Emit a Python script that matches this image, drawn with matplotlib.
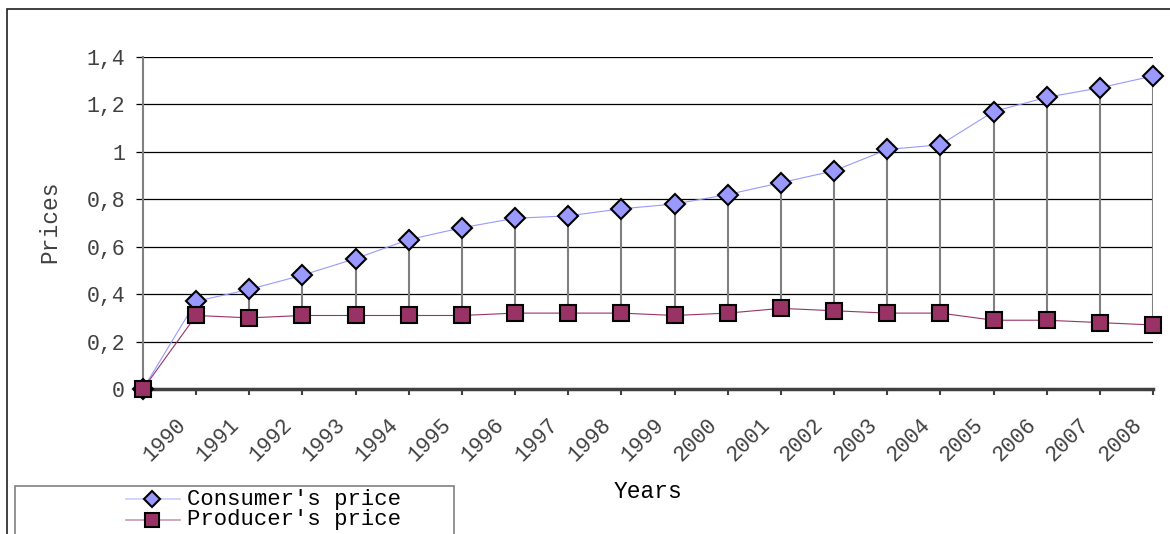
import matplotlib
matplotlib.use("Agg")
import matplotlib.pyplot as plt
from matplotlib.patches import Rectangle
from matplotlib.lines import Line2D

# Price series, first slot is the empty start category
years = ["", "1990", "1991", "1992", "1993", "1994", "1995", "1996", "1997", "1998",
         "1999", "2000", "2001", "2002", "2003", "2004", "2005", "2006", "2007", "2008"]
consumer = [0, 0.37, 0.42, 0.48, 0.55, 0.63, 0.68, 0.72, 0.73, 0.76,
            0.78, 0.82, 0.87, 0.92, 1.01, 1.03, 1.17, 1.23, 1.27, 1.32]
producer = [0, 0.31, 0.30, 0.31, 0.31, 0.31, 0.31, 0.32, 0.32, 0.32,
            0.31, 0.32, 0.34, 0.33, 0.32, 0.32, 0.29, 0.29, 0.28, 0.27]
yticks = [0, 0.2, 0.4, 0.6, 0.8, 1.0, 1.2, 1.4]

W, H = 1170, 534
FONT = "Liberation Mono"
BLUE = "#9999ff"
PLUM = "#993366"
TXT = "#404040"

fig = plt.figure(figsize=(W / 100, H / 100), dpi=100)
ax = fig.add_axes([143 / W, 145 / H, (1153 - 143) / W, (389 - 57) / H])

x = list(range(len(years)))

# horizontal grid, stopping at the last category
ax.hlines(yticks[1:], 0, x[-1], color="black", lw=0.9, zorder=1)

# high-low lines between the two series
ax.vlines(x[1:], producer[1:], consumer[1:], color="#808080", lw=1.5, zorder=2)

ax.plot(x, consumer, color=BLUE, lw=0.8, marker="D", ms=10, mfc=BLUE,
        mec="black", mew=1.5, zorder=3, clip_on=False)
ax.plot(x, producer, color=PLUM, lw=0.8, marker="s", ms=11.5, mfc=PLUM,
        mec="black", mew=1.5, zorder=4, clip_on=False)

ax.set_xlim(0, len(years) - 1)
ax.set_ylim(0, 1.4)
ax.set_yticks(yticks)
ax.set_yticklabels([("%g" % v).replace(".", ",") for v in yticks],
                   fontfamily=FONT, fontsize=15.5, color=TXT)

# year labels sit slanted, down and to the left of each tick
ax.set_xticks(x)
ax.set_xticklabels([])
for i, yr in enumerate(years):
    if yr:
        ax.annotate(yr, xy=(i, 0), xycoords=ax.get_xaxis_transform(),
                    xytext=(-4.5, -18.5), textcoords="offset points",
                    rotation=45, ha="right", va="top", fontfamily=FONT,
                    fontsize=15.5, color=TXT, annotation_clip=False)

ax.tick_params(axis="x", direction="out", length=4, width=1.5, color="#404040")
ax.tick_params(axis="y", direction="out", length=5, width=0.9, color="black", pad=8)

for side in ("top", "right"):
    ax.spines[side].set_visible(False)
ax.spines["left"].set_color("#808080")
ax.spines["left"].set_linewidth(1.5)
ax.spines["bottom"].set_color("#404040")
ax.spines["bottom"].set_linewidth(2.5)
ax.spines["bottom"].set_zorder(2.5)

fig.text(648 / W, 1 - 491 / H, "Years", fontfamily=FONT, fontsize=16.5,
         ha="center", va="center", color="black")
fig.text(50 / W, 1 - 222 / H, "Prices", fontfamily=FONT, fontsize=16.5,
         ha="center", va="center", rotation=90, color=TXT)

# outer chart frame, cut by the image edge
fig.patches.append(Rectangle((7 / W, -0.2), 1.2, (H - 9) / H + 0.2,
                             transform=fig.transFigure, fill=False,
                             edgecolor="#202020", lw=1.2))

# legend box
fig.patches.append(Rectangle((15 / W, -0.1), (454 - 15) / W, (H - 486) / H + 0.1,
                             transform=fig.transFigure, fill=False,
                             edgecolor="#808080", lw=1.2))
for yy, col, mk, ms, label in [(499, BLUE, "D", 8, "Consumer's price"),
                               (520, PLUM, "s", 10, "Producer's price")]:
    fy = 1 - yy / H
    fig.add_artist(Line2D([126 / W, 180 / W], [fy, fy], transform=fig.transFigure,
                          color=col, lw=1.2, alpha=0.5))
    fig.add_artist(Line2D([152 / W], [fy], transform=fig.transFigure, marker=mk,
                          ms=ms, mfc=col, mec="black", mew=1.5, ls="none"))
    fig.text(187 / W, fy, label, fontfamily=FONT, fontsize=16, ha="left",
             va="center", color="black")

fig.savefig("out.png", dpi=100)
